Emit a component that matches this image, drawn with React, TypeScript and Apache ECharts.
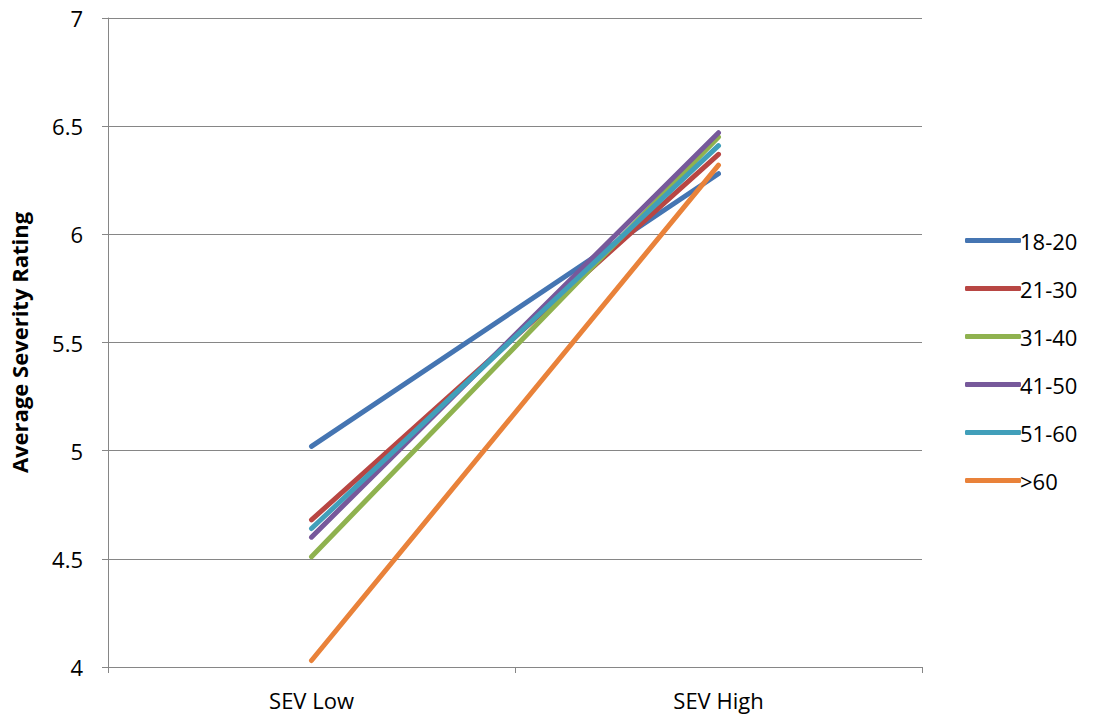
import React, { useEffect, useRef } from "react";
import * as echarts from "echarts";

const categories = ["SEV Low", "SEV High"];
const seriesNames = ["18-20", "21-30", "31-40", "41-50", "51-60", ">60"];
const s1820 = [5.02, 6.28];
const s2130 = [4.68, 6.37];
const s3140 = [4.51, 6.45];
const s4150 = [4.6, 6.47];
const s5160 = [4.64, 6.41];
const s60 = [4.03, 6.32];
const colors = ["#4575B2", "#B84643", "#8FB24F", "#77599B", "#419FBA", "#E9823A"];

export default function App() {
  const ref = useRef<HTMLDivElement>(null);
  useEffect(() => {
    const chart = echarts.init(ref.current!, null, { renderer: "svg" });
    const data = [s1820, s2130, s3140, s4150, s5160, s60];
    const font = "'Open Sans', 'Liberation Sans', sans-serif";
    chart.setOption({
      animation: false,
      color: colors,
      grid: { left: 103, right: 172, top: 18, bottom: 52, containLabel: false },
      legend: {
        orient: "vertical",
        left: 960,
        top: 224,
        itemWidth: 56,
        itemHeight: 5,
        itemGap: 25,
        icon: "roundRect",
        textStyle: { fontSize: 22, lineHeight: 23, color: "#000", fontFamily: font, padding: [0, 0, 0, -6] },
        data: seriesNames,
      },
      xAxis: {
        type: "category",
        data: categories,
        boundaryGap: true,
        axisLine: { lineStyle: { color: "#868686", width: 1 } },
        axisTick: { show: true, lineStyle: { color: "#868686" }, length: 6 },
        axisLabel: { fontSize: 22, color: "#000", fontFamily: font, margin: 22 },
      },
      yAxis: {
        type: "value",
        min: 4,
        max: 7,
        interval: 0.5,
        name: "Average Severity Rating",
        nameLocation: "middle",
        nameGap: 78,
        nameTextStyle: { fontSize: 22, fontWeight: "bold", color: "#000", fontFamily: font },
        axisLine: { show: true, lineStyle: { color: "#868686" } },
        axisTick: { show: true, lineStyle: { color: "#868686" }, length: 6 },
        splitLine: { lineStyle: { color: "#868686", width: 1 } },
        axisLabel: { fontSize: 22, color: "#000", fontFamily: font, margin: 25 },
      },
      series: seriesNames.map((n, i) => ({
        name: n,
        type: "line",
        data: data[i],
        symbol: "none",
        lineStyle: { width: 5, cap: "round", color: colors[i] },
      })),
    });
    return () => chart.dispose();
  }, []);
  return <div ref={ref} style={{ width: 1094, height: 719, position: "absolute", left: 0, top: 0 }} />;
}
